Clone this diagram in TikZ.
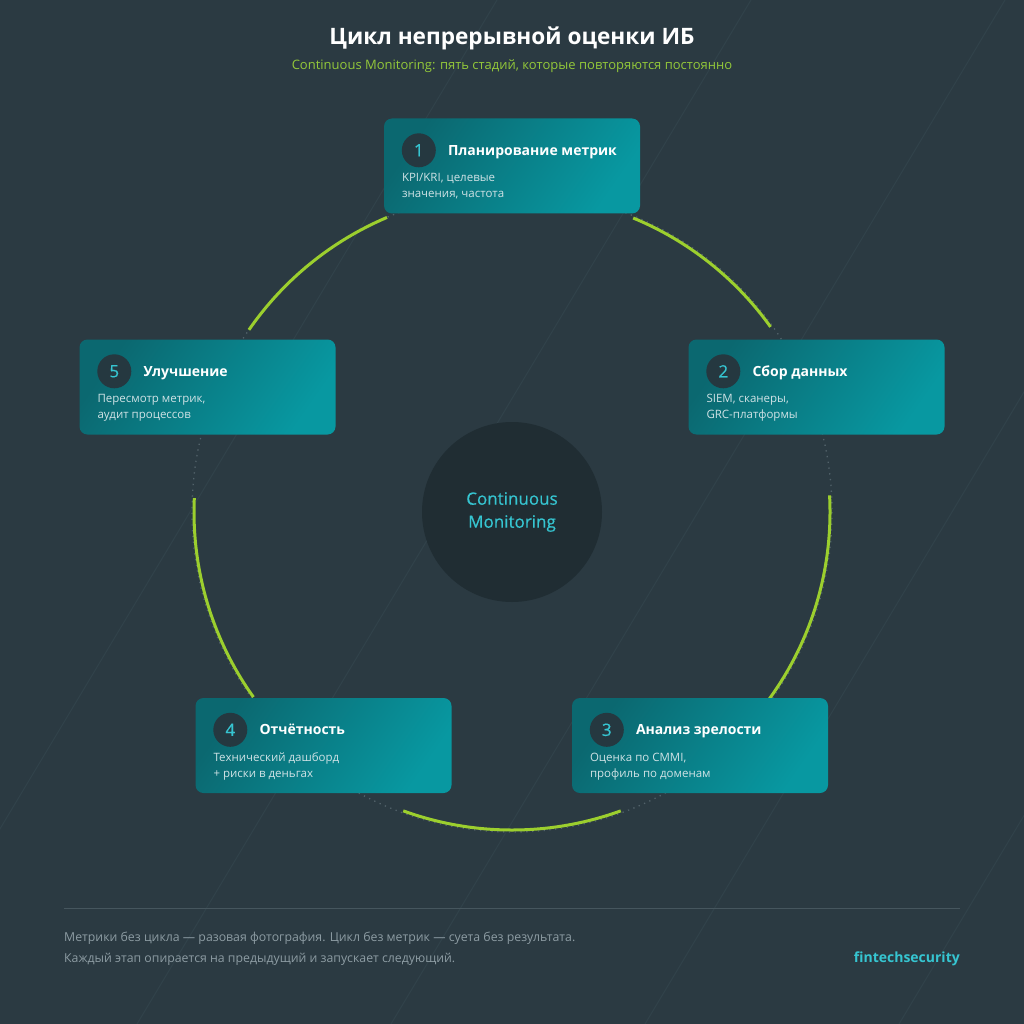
\documentclass[tikz,border=0pt]{standalone}
\usepackage{fontspec}
\setmainfont{Open Sans}
\newfontfamily\medfont{Open Sans}[FakeBold=0.5]
\usetikzlibrary{calc}
\definecolor{bg}{HTML}{2B3A42}
\definecolor{diagc}{HTML}{31424A}
\definecolor{dotc}{HTML}{52626A}
\definecolor{lime}{HTML}{9CCF2E}
\definecolor{subgreen}{HTML}{93C83A}
\definecolor{boxA}{HTML}{0B6870}
\definecolor{boxB}{HTML}{0898A1}
\definecolor{numbg}{HTML}{253840}
\definecolor{tealtxt}{HTML}{36C5D1}
\definecolor{desctxt}{HTML}{CFE2E5}
\definecolor{corebg}{HTML}{202D33}
\definecolor{footline}{HTML}{46565E}
\definecolor{foottxt}{HTML}{8D9CA3}
\tikzset{
  diagline/.style={draw=diagc, line width=1pt},
  dotring/.style={draw=dotc, line width=1.3pt, dash pattern=on 1.3pt off 4.5pt},
  greenarc/.style={draw=lime, line width=3pt},
  stagebox/.style={rectangle, rounded corners=8pt, minimum width=256pt, minimum height=95pt, inner sep=0pt,
    left color=boxA, right color=boxB, shading angle=55},
  numc/.style={circle, fill=numbg, minimum size=34pt, inner sep=0pt, text=tealtxt, font=\fontsize{17}{19}\medfont},
  stitle/.style={anchor=base west, inner sep=0pt, text=white, font=\fontsize{14}{17}\selectfont\bfseries},
  sdesc/.style={anchor=north west, inner sep=0pt, align=left, text=desctxt, font=\fontsize{11.5}{16}\selectfont},
}
\begin{document}
\begin{tikzpicture}[x=1pt,y=-1pt]
\useasboundingbox (0,0) rectangle (1024,1024);
\fill[bg] (0,0) rectangle (1024,1024);
\begin{scope}
\clip (0,0) rectangle (1024,1024);
\foreach \x in {497,751,1005,1259,1513} \draw[diagline] (\x,0) -- (\x-614,1024);
\end{scope}
\coordinate (c) at (512,512);
\draw[dotring] (c) circle[radius=320];
\draw[greenarc] ([shift={(-67.6:318)}]c) arc[start angle=-67.6, end angle=-35.6, radius=318];
\draw[greenarc] ([shift={(-3:318)}]c) arc[start angle=-3, end angle=36, radius=318];
\draw[greenarc] ([shift={(70:318)}]c) arc[start angle=70, end angle=110, radius=318];
\draw[greenarc] ([shift={(144.4:318)}]c) arc[start angle=144.4, end angle=182.5, radius=318];
\draw[greenarc] ([shift={(-145.3:320)}]c) arc[start angle=-145.3, end angle=-113, radius=320];

\node[stagebox] (b1) at (512,166) {};
\node[stagebox] (b2) at (816.5,387) {};
\node[stagebox] (b3) at (700,745.5) {};
\node[stagebox] (b4) at (323.5,745.5) {};
\node[stagebox] (b5) at (207.5,387) {};

\foreach \b/\n/\t/\d in {b1/1/Планирование метрик/{KPI/KRI, целевые\\значения, частота},
  b2/2/Сбор данных/{SIEM, сканеры,\\GRC-платформы},
  b3/3/Анализ зрелости/{Оценка по CMMI,\\профиль по доменам},
  b4/4/Отчётность/{Технический дашборд\\+ риски в деньгах},
  b5/5/Улучшение/{Пересмотр метрик,\\аудит процессов}} {
  \node[numc] (\b n) at ($(\b.north west)+(35,32)$) {\n};
  \node[stitle] (\b t) at ($(\b.north west)+(64,37)$) {\t};
  \node[sdesc] (\b d) at ($(\b.north west)+(18,55)$) {\d};
}

\node[circle, fill=corebg, minimum size=180pt, inner sep=0pt, align=center, text=tealtxt,
  font=\fontsize{17}{23}\medfont] (core) at (c) {Continuous\\Monitoring};

\node[text=white, font=\fontsize{22.6}{27}\selectfont\bfseries, inner sep=0pt] (title) at (512,38) {Цикл непрерывной оценки ИБ};
\node[text=subgreen, font=\fontsize{13}{16}\selectfont, inner sep=0pt] (subtitle) at (512,66) {Continuous Monitoring: пять стадий, которые повторяются постоянно};

\coordinate (fl) at (64,908);
\coordinate (fr) at (960,908);
\draw[footline, line width=1pt] (fl) -- (fr);
\node[anchor=base west, inner sep=0pt, text=foottxt, font=\fontsize{12.3}{15}\selectfont] (f1) at (64,941) {Метрики без цикла — разовая фотография. Цикл без метрик — суета без результата.};
\node[anchor=base west, inner sep=0pt, text=foottxt, font=\fontsize{12.3}{15}\selectfont] (f2) at (64,962) {Каждый этап опирается на предыдущий и запускает следующий.};
\node[anchor=base east, inner sep=0pt, text=tealtxt, font=\fontsize{14}{17}\selectfont\bfseries] (brand) at (960,962) {fintechsecurity};
\end{tikzpicture}
\end{document}
